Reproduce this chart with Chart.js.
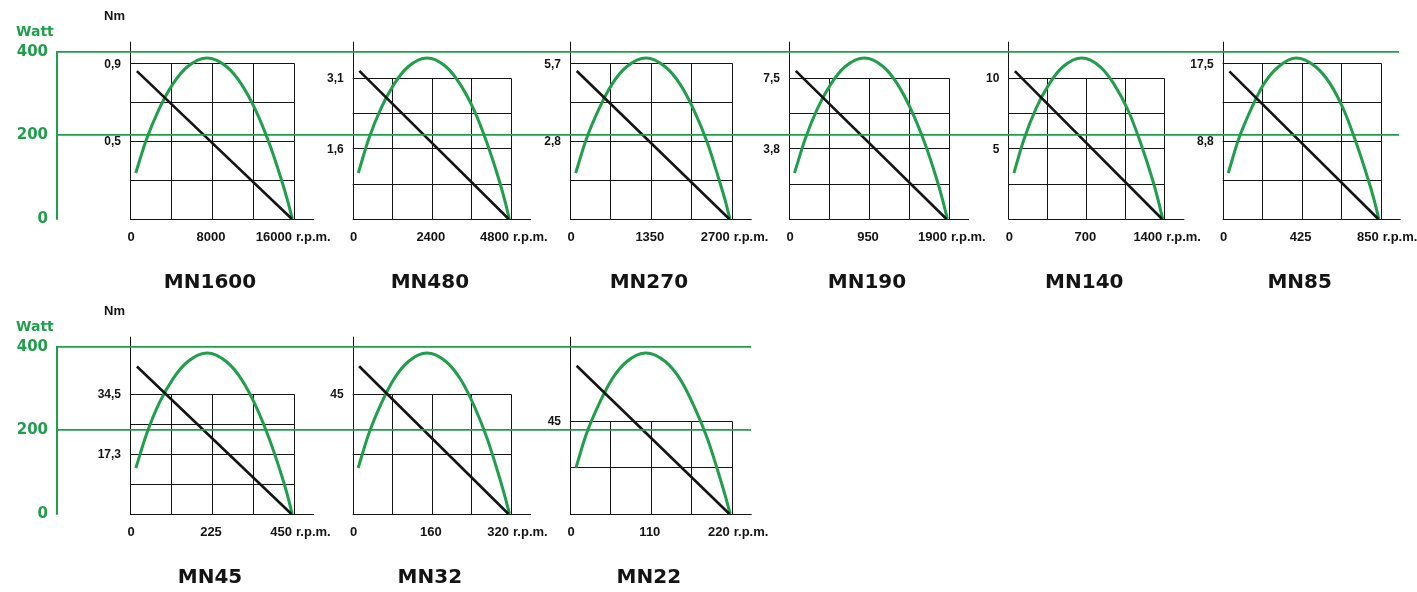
<!DOCTYPE html>
<html>
<head>
<meta charset="utf-8">
<script src="https://cdn.jsdelivr.net/npm/chart.js@4.4.1/dist/chart.umd.min.js"></script>
<style>
  html, body { margin: 0; padding: 0; background: #fff; }
  #page { position: relative; width: 1417px; height: 592px; overflow: hidden; }
  #page canvas { position: absolute; }
</style>
</head>
<body>
<div id="page"></div>
<script>
// one panel per motor
const motors = ['MN1600', 'MN480', 'MN270', 'MN190', 'MN140', 'MN85', 'MN45', 'MN32', 'MN22'];

// r.p.m. labels under each panel (0, middle, end of grid)
const rpmTicks = [
  [0, 8000, 16000], [0, 2400, 4800], [0, 1350, 2700], [0, 950, 1900], [0, 700, 1400], [0, 425, 850],
  [0, 225, 450], [0, 160, 320], [0, 110, 220]
];

// Nm: value at top of the grid, and the labelled ticks
const torqueTop = [0.9, 3.1, 5.7, 7.5, 10, 17.5, 34.5, 45, 45];
const torqueTickValues = [[0.9, 0.45], [3.1, 1.55], [5.7, 2.85], [7.5, 3.75], [10, 5], [17.5, 8.75], [34.5, 17.25], [45], [45]];
const torqueTickLabels = [['0,9', '0,5'], ['3,1', '1,6'], ['5,7', '2,8'], ['7,5', '3,8'], ['10', '5'], ['17,5', '8,8'], ['34,5', '17,3'], ['45'], ['45']];

// torque line, from start point to stall
const torqueRpm = [[670, 15800], [200, 4730], [113, 2660], [80, 1870], [59, 1380], [36, 837], [19, 443], [13, 315], [9, 217]];
const torqueNm = [[0.855, 0], [3.25, 0], [5.42, 0], [7.86, 0], [10.47, 0], [16.6, 0], [42.3, 0], [55.4, 0], [71.5, 0]];

// power curve, read against the shared Watt axis
const powerWatt = [110, 190, 265, 322, 364, 385, 364, 322, 257, 180, 98, 45, 0];
const powerRpm = [
  [560, 1600, 2880, 4160, 5600, 7520, 9440, 10880, 12320, 13600, 14720, 15360, 15840],
  [170, 480, 860, 1250, 1680, 2260, 2830, 3260, 3700, 4080, 4420, 4610, 4750],
  [95, 270, 490, 700, 945, 1270, 1590, 1840, 2080, 2300, 2480, 2590, 2670],
  [65, 190, 340, 495, 665, 895, 1120, 1290, 1460, 1615, 1750, 1825, 1880],
  [50, 140, 250, 365, 490, 660, 825, 950, 1080, 1190, 1290, 1345, 1385],
  [30, 85, 155, 220, 300, 395, 500, 580, 655, 720, 780, 815, 840],
  [16, 45, 80, 117, 158, 212, 265, 306, 346, 382, 414, 432, 445],
  [11, 32, 58, 83, 112, 150, 189, 218, 246, 272, 294, 307, 317],
  [8, 22, 40, 57, 77, 103, 130, 150, 169, 187, 202, 211, 218]
];

const wattTicks = [0, 200, 400];

// layout (pixels)
const GREEN = '#1f9e4b';
const INK = '#141414';
const rowTop = [0, 295];
const AXIS_TOP = 41.7, BASE = 219, W400 = 51.7;
const panels = [
  { row: 0, x0: 130, gridW: 164, gridH: 155.7, rows: 4 },
  { row: 0, x0: 352.7, gridW: 158.3, gridH: 141.3, rows: 4 },
  { row: 0, x0: 570, gridW: 161.7, gridH: 155.7, rows: 4 },
  { row: 0, x0: 789, gridW: 160, gridH: 141.3, rows: 4 },
  { row: 0, x0: 1008.3, gridW: 156, gridH: 141.3, rows: 4 },
  { row: 0, x0: 1222.7, gridW: 158, gridH: 155.7, rows: 4 },
  { row: 1, x0: 130, gridW: 164, gridH: 120.3, rows: 4 },
  { row: 1, x0: 352.7, gridW: 158.3, gridH: 120, rows: 2 },
  { row: 1, x0: 570, gridW: 161.7, gridH: 93.3, rows: 2 }
];
const rowRight = [1399, 751];

function makeCanvas(left, top, w, h, z) {
  const c = document.createElement('canvas');
  c.width = w; c.height = h;
  c.style.left = left + 'px';
  c.style.top = top + 'px';
  c.style.width = w + 'px';
  c.style.height = h + 'px';
  c.style.zIndex = z;
  document.getElementById('page').appendChild(c);
  return c;
}

const crisp = v => Math.round(v) + 0.5;

// the panels
panels.forEach((p, i) => {
  const left = Math.round(p.x0 - 55);
  const top = rowTop[p.row] + 36;
  const padL = p.x0 - left;
  const padR = 70;
  const w = Math.ceil(padL + p.gridW + 20 + padR);
  const h = 262;
  const chartH = BASE - AXIS_TOP;
  const rpmMax = rpmTicks[i][2];

  const frame = {
    id: 'frame',
    beforeDatasetsDraw(chart) {
      const { ctx, chartArea: a, scales: { x, yT } } = chart;
      const gx0 = x.getPixelForValue(0), gx1 = x.getPixelForValue(rpmMax);
      const gTop = yT.getPixelForValue(torqueTop[i]);
      ctx.save();
      ctx.strokeStyle = INK;
      ctx.lineWidth = 1;
      ctx.beginPath();
      for (let k = 1; k <= 4; k++) {
        const xx = crisp(x.getPixelForValue(rpmMax * k / 4));
        ctx.moveTo(xx, crisp(gTop));
        ctx.lineTo(xx, a.bottom);
      }
      for (let k = 1; k <= p.rows; k++) {
        const yy = crisp(yT.getPixelForValue(torqueTop[i] * k / p.rows));
        ctx.moveTo(gx0, yy);
        ctx.lineTo(crisp(gx1), yy);
      }
      ctx.moveTo(crisp(gx0), a.top);
      ctx.lineTo(crisp(gx0), a.bottom);
      ctx.moveTo(gx0, crisp(a.bottom));
      ctx.lineTo(a.right, crisp(a.bottom));
      ctx.stroke();

      ctx.fillStyle = INK;
      ctx.textBaseline = 'middle';
      ctx.font = 'bold 12px "Liberation Sans", Arial, sans-serif';
      ctx.textAlign = 'right';
      torqueTickValues[i].forEach((v, k) => {
        ctx.fillText(torqueTickLabels[i][k], gx0 - 9, yT.getPixelForValue(v) + 1);
      });

      const ly = a.bottom + 18;
      ctx.font = 'bold 13px "Liberation Sans", Arial, sans-serif';
      ctx.textAlign = 'center';
      ctx.fillText(String(rpmTicks[i][0]), x.getPixelForValue(rpmTicks[i][0]) + 1, ly);
      ctx.fillText(String(rpmTicks[i][1]), x.getPixelForValue(rpmTicks[i][1]) - 1, ly);
      ctx.textAlign = 'right';
      ctx.fillText(String(rpmTicks[i][2]), gx1 - 2, ly);
      ctx.textAlign = 'left';
      ctx.fillText('r.p.m.', gx1 + 2, ly);

      ctx.font = 'bold 20px "DejaVu Sans", Verdana, sans-serif';
      ctx.textAlign = 'center';
      ctx.fillText(motors[i], (gx0 + gx1) / 2 - 2, a.bottom + 63.5);
      ctx.restore();
    }
  };

  new Chart(makeCanvas(left, top, w, h, 1), {
    type: 'line',
    data: {
      datasets: [
        {
          data: torqueRpm[i].map((r, k) => ({ x: r, y: torqueNm[i][k] })),
          yAxisID: 'yT',
          borderColor: INK,
          borderWidth: 2.6,
          pointRadius: 0,
          clip: false
        },
        {
          data: powerRpm[i].map((r, k) => ({ x: r, y: powerWatt[k] })),
          yAxisID: 'yW',
          borderColor: GREEN,
          borderWidth: 3,
          pointRadius: 0,
          cubicInterpolationMode: 'monotone',
          clip: false
        }
      ]
    },
    options: {
      responsive: false,
      animation: false,
      events: [],
      layout: { padding: { left: padL, right: w - padL - p.gridW - 20, top: AXIS_TOP - 36, bottom: h - (BASE - 36) } },
      plugins: { legend: { display: false }, tooltip: { enabled: false } },
      scales: {
        x: { type: 'linear', display: false, min: 0, max: rpmMax * (p.gridW + 20) / p.gridW },
        yT: { display: false, min: 0, max: torqueTop[i] * chartH / p.gridH },
        yW: { display: false, min: 0, max: 400 * chartH / (BASE - W400) }
      }
    },
    plugins: [frame]
  });
});

// shared Watt axis and green reference lines, one per row
[0, 1].forEach(r => {
  const labels = {
    id: 'rowLabels',
    afterDraw(chart) {
      const ctx = chart.ctx;
      ctx.save();
      ctx.textBaseline = 'middle';
      ctx.textAlign = 'left';
      ctx.fillStyle = GREEN;
      ctx.font = 'bold 14px "DejaVu Sans", Verdana, sans-serif';
      ctx.fillText('Watt', 16, 32.5);
      ctx.fillStyle = INK;
      ctx.font = 'bold 13px "Liberation Sans", Arial, sans-serif';
      ctx.fillText('Nm', 104, 16.5);
      ctx.restore();
    }
  };

  new Chart(makeCanvas(0, rowTop[r], 1417, 300, 2), {
    type: 'line',
    data: { labels: [], datasets: [] },
    options: {
      responsive: false,
      animation: false,
      events: [],
      layout: { padding: { left: 0, top: W400, right: 1417 - rowRight[r], bottom: 300 - BASE } },
      plugins: { legend: { display: false }, tooltip: { enabled: false } },
      scales: {
        x: { display: false },
        y: {
          min: 0,
          max: 400,
          afterFit: s => { s.width = 57; },
          afterBuildTicks: s => { s.ticks = wattTicks.map(v => ({ value: v })); },
          ticks: {
            color: GREEN,
            padding: 9,
            font: { family: '"DejaVu Sans", Verdana, sans-serif', size: 15, weight: 'bold' }
          },
          grid: {
            color: c => (c.tick && c.tick.value === 0) ? 'rgba(0,0,0,0)' : GREEN,
            lineWidth: 1.8,
            drawTicks: false
          },
          border: { color: GREEN, width: 2 }
        }
      }
    },
    plugins: [labels]
  });
});
</script>
</body>
</html>
